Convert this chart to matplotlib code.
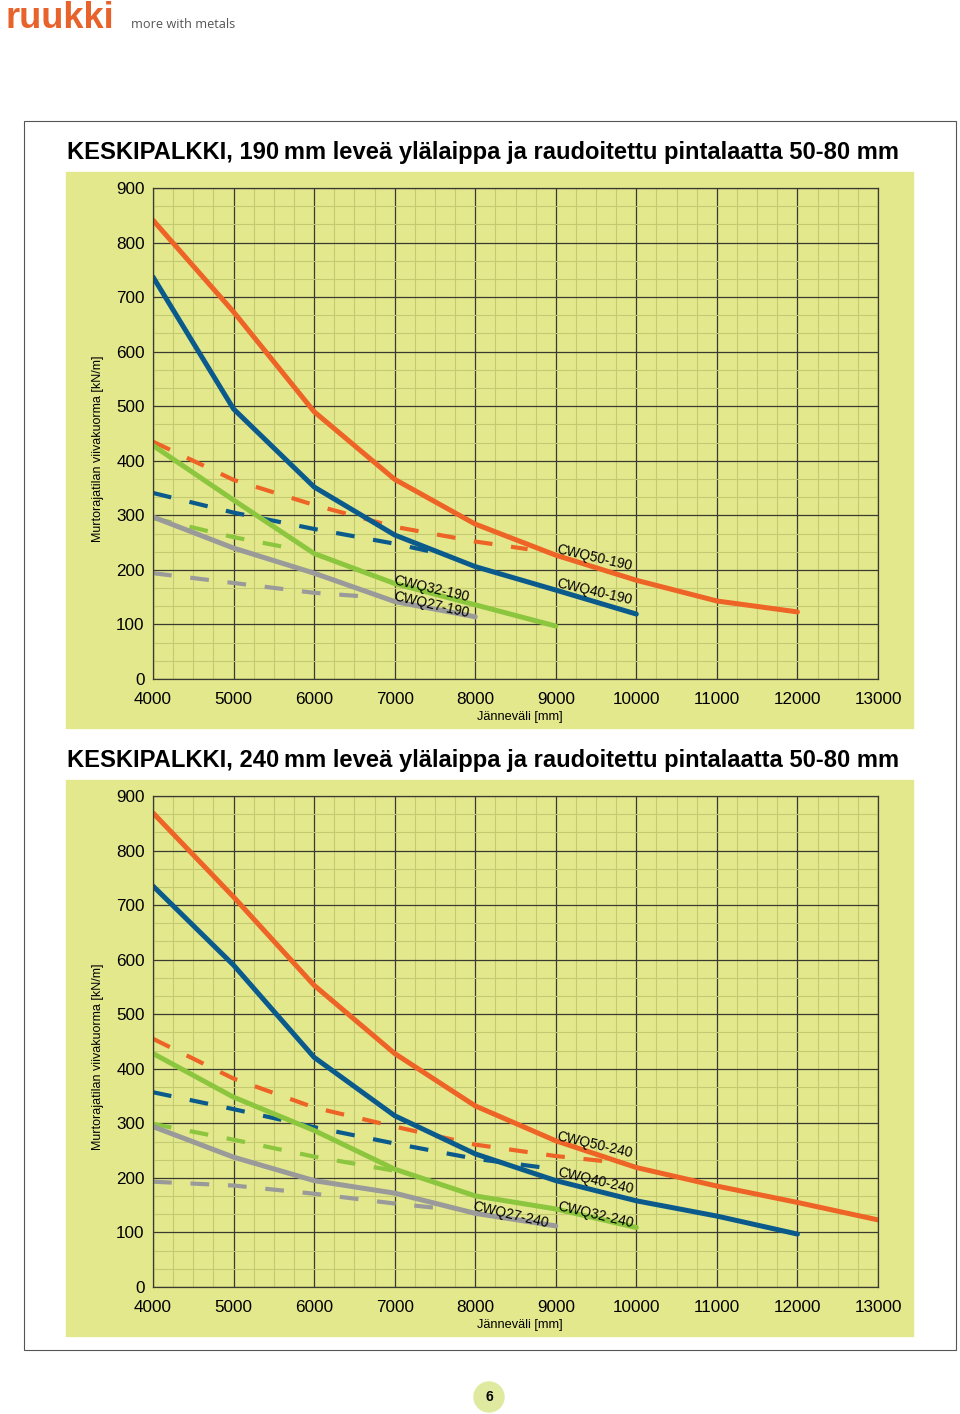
import matplotlib
matplotlib.use("Agg")
from matplotlib import pyplot as plt
from matplotlib.patches import Rectangle, Ellipse
from matplotlib.ticker import MultipleLocator

plt.rcParams['font.family'] = ['Liberation Sans', 'DejaVu Sans']

W, H = 960, 1414

# --- data: 190 mm flange ---
x50_190 = [4000, 5000, 6000, 7000, 8000, 9000, 10000, 11000, 12000]
y50_190 = [841, 673, 490, 366, 284, 227, 181, 143, 123]
x40_190 = [4000, 5000, 6000, 7000, 8000, 9000, 10000]
y40_190 = [737, 495, 352, 264, 206, 163, 119]
x32_190 = [4000, 5000, 6000, 7000, 8000, 9000]
y32_190 = [428, 328, 230, 175, 136, 97]
x27_190 = [4000, 5000, 6000, 7000, 8000]
y27_190 = [297, 240, 194, 142, 114]
xd50_190 = [4000, 5000, 6000, 7000, 8000, 8650]
yd50_190 = [435, 365, 319, 279, 252, 238]
xd40_190 = [4000, 5000, 6000, 7000, 7560]
yd40_190 = [341, 305, 275, 248, 230]
xd32_190 = [4000, 5000, 5700]
yd32_190 = [295, 260, 240]
xd27_190 = [4000, 5000, 6000, 6650]
yd27_190 = [194, 176, 158, 151]

# --- data: 240 mm flange ---
x50_240 = [4000, 5000, 6000, 7000, 8000, 9000, 10000, 11000, 12000, 13000]
y50_240 = [869, 715, 553, 428, 332, 268, 219, 185, 155, 123]
x40_240 = [4000, 5000, 6000, 7000, 8000, 9000, 10000, 11000, 12000]
y40_240 = [735, 590, 421, 314, 244, 195, 158, 130, 97]
x32_240 = [4000, 5000, 6000, 7000, 8000, 9000, 10000]
y32_240 = [428, 348, 287, 216, 167, 143, 109]
x27_240 = [4000, 5000, 6000, 7000, 8000, 9000]
y27_240 = [294, 238, 195, 172, 135, 112]
xd50_240 = [4000, 5000, 6000, 7000, 8000, 9000, 9650]
yd50_240 = [455, 382, 329, 294, 261, 240, 230]
xd40_240 = [4000, 5000, 6000, 7000, 8000, 9000]
yd40_240 = [357, 326, 293, 263, 235, 216]
xd32_240 = [4000, 5000, 6000, 7000]
yd32_240 = [299, 270, 239, 213]
xd27_240 = [4000, 5000, 6000, 7000, 7650]
yd27_240 = [193, 186, 171, 153, 143]

x_ticks = [4000, 5000, 6000, 7000, 8000, 9000, 10000, 11000, 12000, 13000]
y_ticks = [0, 100, 200, 300, 400, 500, 600, 700, 800, 900]

ORANGE = '#ee6326'
BLUE = '#0b5a8c'
GREEN = '#8cc63e'
GRAY = '#9a9a9a'
PANEL = '#e3e88d'

fig = plt.figure(figsize=(W / 100, H / 100), dpi=100)


def rect(x0, y0, x1, y1):
    return [x0 / W, 1 - y1 / H, (x1 - x0) / W, (y1 - y0) / H]


def ftxt(x, y, s, **kw):
    fig.text(x / W, 1 - y / H, s, **kw)


# outer frame
fig.patches.append(Rectangle((24 / W, 1 - 1350 / H), 932 / W, 1229 / H,
                             transform=fig.transFigure, fill=False,
                             edgecolor='#555555', lw=0.8))

# logo
ftxt(6, 19, 'ruukki', fontsize=26, fontweight='bold', color='#e8632b',
     va='center', ha='left')
ftxt(131, 24, 'more with metals', fontsize=9.2, color='#555555',
     va='center', ha='left', family='Open Sans')


def panel(top, title, series, dashed, labels):
    # top = pixel y of the yellow panel top
    fig.patches.append(Rectangle((66 / W, 1 - (top + 556) / H), 847 / W, 556 / H,
                                 transform=fig.transFigure, color=PANEL, zorder=-5))
    ftxt(67, top - 20, title, fontsize=17.1, fontweight='bold', va='center', ha='left')
    ax = fig.add_axes(rect(153, top + 16, 878, top + 507))
    ax.set_zorder(2)
    ax.set_facecolor('none')
    ax.set_xlim(4000, 13000)
    ax.set_ylim(0, 900)
    ax.set_xticks(x_ticks)
    ax.set_yticks(y_ticks)
    ax.xaxis.set_minor_locator(MultipleLocator(250))
    ax.yaxis.set_minor_locator(MultipleLocator(100 / 3))
    ax.grid(which='major', color='#3a3a30', lw=0.9)
    ax.grid(which='minor', color='#c4ca72', lw=0.8)
    ax.set_axisbelow(True)
    ax.tick_params(which='both', length=0, labelsize=12.3, pad=6)
    ax.tick_params(axis='x', pad=9)
    for sp in ax.spines.values():
        sp.set_color('#3a3a30')
        sp.set_linewidth(0.9)
    ax.set_xlabel('Jänneväli [mm]', fontsize=9.2)
    ax.xaxis.set_label_coords(0.506, -0.066)
    ax.set_ylabel('Murtorajatilan viivakuorma [kN/m]', fontsize=9)
    ax.yaxis.set_label_coords(-0.068, 0.468)
    for xs, ys, c in dashed:
        ax.plot(xs, ys, color=c, lw=3.0, dashes=(4.5, 4.5), solid_capstyle='butt')
    for xs, ys, c in series:
        ax.plot(xs, ys, color=c, lw=3.6, solid_capstyle='round')
    for x, y, s in labels:
        ax.text(x, y, s, fontsize=10, rotation=-13, ha='center', va='center',
                rotation_mode='anchor')
    return ax


panel(172, 'KESKIPALKKI, 190\u2009mm leveä ylälaippa ja raudoitettu pintalaatta 50-80 mm',
      [(x27_190, y27_190, GRAY), (x32_190, y32_190, GREEN),
       (x40_190, y40_190, BLUE), (x50_190, y50_190, ORANGE)],
      [(xd27_190, yd27_190, GRAY), (xd32_190, yd32_190, GREEN),
       (xd40_190, yd40_190, BLUE), (xd50_190, yd50_190, ORANGE)],
      [(9480, 222, 'CWQ50-190'), (9480, 160, 'CWQ40-190'),
       (7460, 165, 'CWQ32-190'), (7460, 135, 'CWQ27-190')])

panel(780, 'KESKIPALKKI, 240\u2009mm leveä ylälaippa ja raudoitettu pintalaatta 50-80 mm',
      [(x27_240, y27_240, GRAY), (x32_240, y32_240, GREEN),
       (x40_240, y40_240, BLUE), (x50_240, y50_240, ORANGE)],
      [(xd27_240, yd27_240, GRAY), (xd32_240, yd32_240, GREEN),
       (xd40_240, yd40_240, BLUE), (xd50_240, yd50_240, ORANGE)],
      [(9480, 260, 'CWQ50-240'), (9490, 195, 'CWQ40-240'),
       (9490, 133, 'CWQ32-240'), (8440, 133, 'CWQ27-240')])

# page number
fig.patches.append(Ellipse((489 / W, 1 - 1397 / H), 30 / W, 30 / H,
                           transform=fig.transFigure, color='#dfeaa0', zorder=0))
ftxt(489, 1397, '6', fontsize=10, fontweight='bold', ha='center', va='center')

fig.savefig('out.png', dpi=100)
